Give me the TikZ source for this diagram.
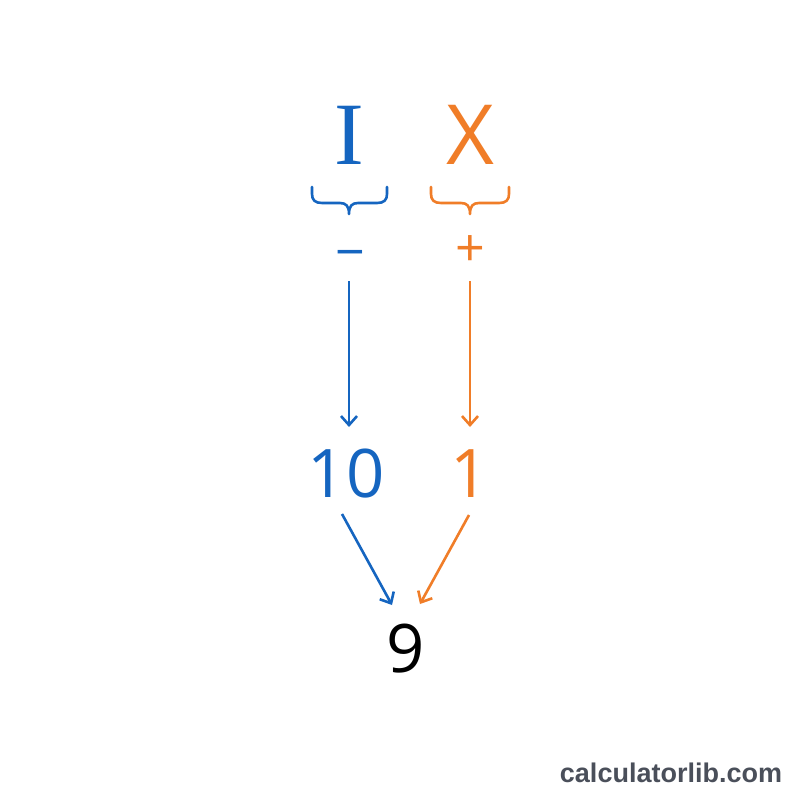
\documentclass[tikz,border=0pt]{standalone}
\usepackage{fontspec}
\setmainfont{Open Sans}
\newfontfamily\serifI{Liberation Serif}
\newfontfamily\wmfont{Liberation Sans}
\usetikzlibrary{arrows.meta,calc}
\definecolor{rblue}{RGB}{21,101,192}
\definecolor{rorange}{RGB}{240,125,40}
\definecolor{wmgray}{RGB}{74,79,90}
\tikzset{
  txt/.style={inner sep=0pt, outer sep=0pt, anchor=base},
  arr/.style={line width=2.6pt, -{Straight Barb[length=9pt,width=16pt,line width=2.6pt]}},
  brace/.style={line width=2.6pt, line cap=round, line join=round}
}
\begin{document}
\begin{tikzpicture}[x=1pt,y=-1pt]
\useasboundingbox (0,0) rectangle (800,800);
\fill[white] (0,0) rectangle (800,800);
% top symbols
\node[txt, text=rblue, font=\serifI\fontsize{89}{89}\selectfont] (I) at (349,164) {I};
\node[txt, text=rorange, font=\fontsize{83}{83}\selectfont] (X) at (470,164) {X};
% braces
\draw[brace, rblue] (312,187) -- (312,194) .. controls (312,200) and (315,203) .. (322,203) -- (340,203) .. controls (346,203) and (349,206) .. (349,214)
  .. controls (349,206) and (352,203) .. (358,203) -- (377,203) .. controls (384,203) and (387,200) .. (387,194) -- (387,187);
\draw[brace, rorange] (431,187) -- (431,194) .. controls (431,200) and (434,203) .. (441,203) -- (461,203) .. controls (467,203) and (470,206) .. (470,214)
  .. controls (470,206) and (473,203) .. (479,203) -- (499,203) .. controls (506,203) and (509,200) .. (509,194) -- (509,187);
% signs
\node[inner sep=0pt, text=rblue, font=\fontsize{52}{52}\selectfont] (minus) at (350,260) {−};
\node[inner sep=0pt, text=rorange, font=\fontsize{52}{52}\selectfont] (plus) at (470,251) {+};
% values
\node[txt, text=rblue, font=\fontsize{67}{67}\selectfont] (ten) at (346,497) {10};
\node[txt, text=rorange, font=\fontsize{67}{67}\selectfont] (one) at (470,497) {1};
\node[txt, text=black, font=\fontsize{67}{67}\selectfont] (nine) at (406,672) {9};
% arrows
\draw[arr, rblue] ($(minus.center)+(-1,21)$) -- ($(ten.base)+(3,-70)$);
\draw[arr, rorange] ($(plus.center)+(0,30)$) -- ($(one.base)+(0,-70)$);
\draw[arr, rblue] ($(ten.base)+(-4,17)$) -- ($(nine.base)+(-14,-67)$);
\draw[arr, rorange] ($(one.base)+(-1,18)$) -- ($(nine.base)+(14,-68)$);
% watermark
\node[txt, text=wmgray, font=\wmfont\bfseries\fontsize{27}{27}\selectfont] (wm) at (671,782) {calculatorlib.com};
\end{tikzpicture}
\end{document}
